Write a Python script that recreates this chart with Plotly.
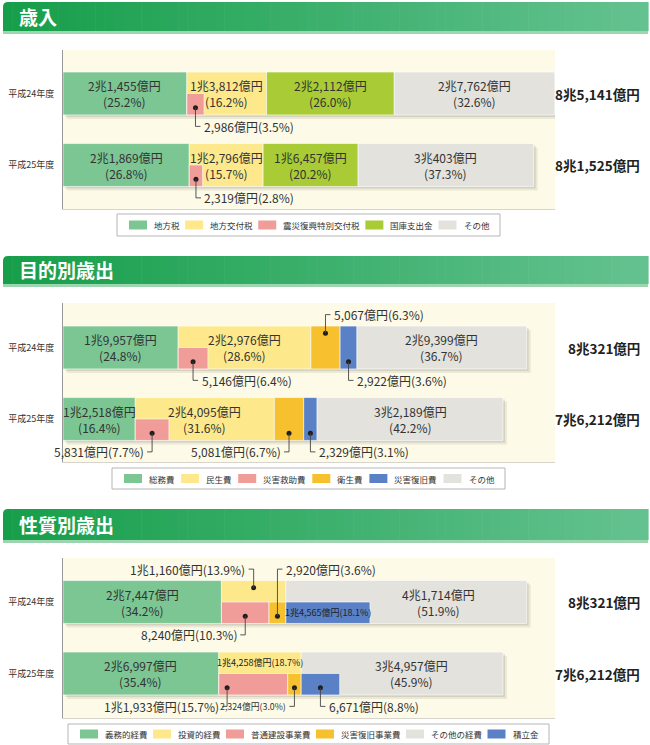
import plotly.graph_objects as go

W, H = 650, 745
FONT = "Noto Sans CJK JP, Noto Sans, sans-serif"

# ---------------- data ----------------
years = ["平成24年度", "平成25年度"]

rev_cats = ["地方税", "地方交付税", "震災復興特別交付税", "国庫支出金", "その他"]
rev_h24 = [21455, 13812, 2986, 22112, 27762]
rev_h25 = [21869, 12796, 2319, 16457, 30403]
rev_pct_h24 = [25.2, 16.2, 3.5, 26.0, 32.6]
rev_pct_h25 = [26.8, 15.7, 2.8, 20.2, 37.3]

pur_cats = ["総務費", "民生費", "災害救助費", "衛生費", "災害復旧費", "その他"]
pur_h24 = [19957, 22976, 5146, 5067, 2922, 29399]
pur_h25 = [12518, 24095, 5831, 5081, 2329, 32189]
pur_pct_h24 = [24.8, 28.6, 6.4, 6.3, 3.6, 36.7]
pur_pct_h25 = [16.4, 31.6, 7.7, 6.7, 3.1, 42.2]

nat_cats = ["義務的経費", "投資的経費", "普通建設事業費", "災害復旧事業費", "その他の経費", "積立金"]
nat_h24 = [27447, 11160, 8240, 2920, 41714, 14565]
nat_h25 = [26997, 14258, 11933, 2324, 34957, 6671]
nat_pct_h24 = [34.2, 13.9, 10.3, 3.6, 51.9, 18.1]
nat_pct_h25 = [35.4, 18.7, 15.7, 3.0, 45.9, 8.8]

# ---------------- styling ----------------
GREEN, YELLOW, PINK = "#7cc693", "#fde98b", "#f09d99"
LIME, GREY, ORANGE, BLUE = "#a9cb35", "#e3e2dd", "#f7c02e", "#5a80c5"
TXT = "#333333"

X0PX, X1PX = 63, 555
XMAX = 85224.0                      # axis range (oku yen)
PX = XMAX / (X1PX - X0PX)           # data units per pixel
UNIT = 71.5                         # pixels per category step


def fmt(v):
    c, o = divmod(int(v), 10000)
    return f"{c}兆{o:,}億円" if c else f"{o:,}億円"


def px_x(p):
    return p / W


def px_y(p):
    return 1 - p / H


sections = [
    dict(title="歳入", cats=rev_cats, vals=[rev_h24, rev_h25], pcts=[rev_pct_h24, rev_pct_h25],
         colors=[GREEN, YELLOW, PINK, LIME, GREY], main=[0, 1, 3, 4], subs=[(2, 1)],
         banner=(2, 31), bg=(50, 209), centers=(93.5, 165), legend=(117, 500, 214, 236),
         inside=[(0, 0), (1, 0), (3, 0), (4, 0), (0, 1), (1, 1), (3, 1), (4, 1)],
         small=[],
         callouts=[(2, 0, "down", "right", 0.5, 12), (2, 1, "down", "right", 0.5, 12)]),
    dict(title="目的別歳出", cats=pur_cats, vals=[pur_h24, pur_h25], pcts=[pur_pct_h24, pur_pct_h25],
         colors=[GREEN, YELLOW, PINK, ORANGE, BLUE, GREY], main=[0, 1, 3, 4, 5], subs=[(2, 1)],
         banner=(256, 284), bg=(303, 462), centers=(347.5, 419), legend=(112, 505, 468, 489),
         inside=[(0, 0), (1, 0), (5, 0), (0, 1), (1, 1), (5, 1)],
         small=[],
         callouts=[(2, 0, "down", "right", 0.5, 12), (3, 0, "up", "right", 0.5, 12),
                   (4, 0, "down", "right", 0.5, 12), (2, 1, "down", "left", 0.5, 12),
                   (3, 1, "down", "left", 0.5, 12), (4, 1, "down", "right", 0.5, 12)]),
    dict(title="性質別歳出", cats=nat_cats, vals=[nat_h24, nat_h25], pcts=[nat_pct_h24, nat_pct_h25],
         colors=[GREEN, YELLOW, PINK, ORANGE, GREY, BLUE], main=[0, 1, 4], subs=[(2, 1), (3, 1), (5, 4)],
         banner=(509, 540), bg=(558, 718), centers=(602, 673.5), legend=(68, 549, 724, 744),
         inside=[(0, 0), (0, 1), (4, 0), (4, 1)],
         small=[(5, 0, "bottom"), (1, 1, "top")],
         callouts=[(1, 0, "up", "left", 0.5, 12), (2, 0, "down", "left", 0.5, 12),
                   (3, 0, "up", "right", 0.5, 12), (2, 1, "down", "left", 0.12, 12),
                   (3, 1, "down", "left", 0.5, 8.8), (5, 1, "down", "right", 0.5, 12)]),
]

fig = go.Figure()
shapes, annotations = [], []
layout_axes = {}


def geometry(sec):
    geo = {}
    for yr in range(2):
        vals = sec["vals"][yr]
        cum = 0
        for i in sec["main"]:
            geo[(i, yr)] = (cum, vals[i], "full")
            cum += vals[i]
        sub_cum = {}
        for i, parent in sec["subs"]:
            pb = geo[(parent, yr)][0]
            off = sub_cum.get(parent, 0)
            geo[(i, yr)] = (pb + off, vals[i], "bottom")
            sub_cum[parent] = off + vals[i]
    return geo


def banner(y0, y1, n=70):
    xa, xb = 3, 648
    c0, c1 = (22, 158, 74), (100, 194, 144)
    for i in range(n):
        a = xa + (xb - xa) * i / n
        b = xa + (xb - xa) * (i + 1) / n + 0.6
        t = i / (n - 1)
        col = "rgb(%d,%d,%d)" % tuple(round(c0[k] + (c1[k] - c0[k]) * t) for k in range(3))
        if i == 0:
            r = 5
            path = (f"M{px_x(a)},{px_y(y1)} L{px_x(a)},{px_y(y0 + r)} "
                    f"Q{px_x(a)},{px_y(y0)} {px_x(a + r)},{px_y(y0)} "
                    f"L{px_x(b)},{px_y(y0)} L{px_x(b)},{px_y(y1)} Z")
            shapes.append(dict(type="path", xref="paper", yref="paper", path=path,
                               fillcolor=col, line=dict(width=0)))
        else:
            shapes.append(dict(type="rect", xref="paper", yref="paper",
                               x0=px_x(a), x1=px_x(b), y0=px_y(y1), y1=px_y(y0),
                               fillcolor=col, line=dict(width=0)))
    shapes.append(dict(type="rect", xref="paper", yref="paper",
                       x0=px_x(xa), x1=px_x(xb), y0=px_y(y1 + 3), y1=px_y(y1),
                       fillcolor="#9dd5b1", line=dict(width=0)))


for n, sec in enumerate(sections, start=1):
    xa = "x" if n == 1 else f"x{n}"
    ya = "y" if n == 1 else f"y{n}"
    top, bot = sec["bg"]
    c24, c25 = sec["centers"]
    yr_range = [1 + (bot - c25) / UNIT, -(c24 - top) / UNIT]
    layout_axes["xaxis" if n == 1 else f"xaxis{n}"] = dict(
        domain=[px_x(X0PX), px_x(X1PX)], range=[0, XMAX], anchor=ya,
        showgrid=False, zeroline=False, showticklabels=False, ticks="",
        showline=True, linecolor="#d6d4cc", linewidth=1, fixedrange=True)
    layout_axes["yaxis" if n == 1 else f"yaxis{n}"] = dict(
        domain=[px_y(bot), px_y(top)], range=yr_range, anchor=xa,
        tickvals=[0, 1], ticktext=years, ticks="", ticklabelstandoff=6,
        tickfont=dict(size=9, color=TXT, family=FONT),
        showgrid=False, zeroline=False, showline=True, linecolor="#9a9a9a",
        linewidth=1, fixedrange=True)

    geo = geometry(sec)
    vals, pcts, cats, cols = sec["vals"], sec["pcts"], sec["cats"], sec["colors"]
    totals = [sum(vals[yr][i] for i in sec["main"]) for yr in range(2)]

    # drop shadows
    for d, a in ((4, 0.07), (2, 0.10)):
        fig.add_trace(go.Bar(orientation="h", y=[0, 1], x=totals, base=[d * PX] * 2,
                             width=0.6, offset=-0.3 + d / UNIT,
                             marker=dict(color=f"rgba(0,0,0,{a})", line=dict(width=0)),
                             xaxis=xa, yaxis=ya, showlegend=False, hoverinfo="skip"))
    # main stacked segments
    for i in sec["main"]:
        fig.add_trace(go.Bar(orientation="h", y=[0, 1], name=cats[i],
                             x=[geo[(i, 0)][1], geo[(i, 1)][1]],
                             base=[geo[(i, 0)][0], geo[(i, 1)][0]],
                             width=0.6, offset=-0.3,
                             marker=dict(color=cols[i], line=dict(color="rgba(255,255,255,0.85)", width=0.7)),
                             xaxis=xa, yaxis=ya, showlegend=False))
    # half-height component segments
    for i, parent in sec["subs"]:
        fig.add_trace(go.Bar(orientation="h", y=[0, 1], name=cats[i],
                             x=[geo[(i, 0)][1], geo[(i, 1)][1]],
                             base=[geo[(i, 0)][0], geo[(i, 1)][0]],
                             width=0.3, offset=0,
                             marker=dict(color=cols[i], line=dict(color="rgba(255,255,255,0.85)", width=0.7)),
                             xaxis=xa, yaxis=ya, showlegend=False))

    # inside two-line labels
    for i, yr in sec["inside"]:
        b, v, _ = geo[(i, yr)]
        xc = b + v / 2
        xs = 0
        if n == 3 and i == 4:
            bb, bv, _ = geo[(5, yr)]
            xc = (bb + bv + b + v) / 2
            xs = -10
        annotations.append(dict(x=xc, y=yr, xref=xa, yref=ya,
                                text=f"{fmt(v)}<br>({pcts[yr][i]:.1f}%)", showarrow=False,
                                xshift=xs, font=dict(size=12, color=TXT, family=FONT)))
    # small single-line labels in half bars
    for i, yr, half in sec["small"]:
        b, v, _ = geo[(i, yr)]
        yy = yr + (0.15 if half == "bottom" else -0.15)
        annotations.append(dict(x=b + v / 2, y=yy, xref=xa, yref=ya,
                                text=f"{fmt(vals[yr][i])}({pcts[yr][i]:.1f}%)", showarrow=False,
                                font=dict(size=9, color="#222", family=FONT)))

    # callouts with leader lines
    dx, dy = [], []
    for i, yr, dirn, side, frac, fs in sec["callouts"]:
        b, v, half = geo[(i, yr)]
        xd = b + v * frac
        if half == "bottom":
            yd = yr + 0.2
        else:
            yd = yr + (-0.2 if dirn == "up" else 0.2)
        ye = yr + (-0.46 if dirn == "up" else 0.46)
        sgn = 1 if side == "right" else -1
        xe = xd + sgn * 5 * PX
        dx.append(xd)
        dy.append(yd)
        shapes.append(dict(type="path", xref=xa, yref=ya,
                           path=f"M{xd},{yd} V{ye} H{xe}",
                           line=dict(color="#444", width=0.9)))
        annotations.append(dict(x=xe + sgn * 1.5 * PX, y=ye, xref=xa, yref=ya,
                                text=f"{fmt(vals[yr][i])}({pcts[yr][i]:.1f}%)",
                                xanchor="left" if side == "right" else "right",
                                showarrow=False, font=dict(size=fs, color=TXT, family=FONT)))
    fig.add_trace(go.Scatter(x=dx, y=dy, mode="markers", xaxis=xa, yaxis=ya,
                             marker=dict(size=5, color="#1e1e1e"), showlegend=False,
                             hoverinfo="skip"))

    # totals on the right
    for yr in range(2):
        annotations.append(dict(x=px_x(642), y=yr, xref="paper", yref=ya, xanchor="right",
                                text=f"<b>{fmt(totals[yr])}</b>", showarrow=False,
                                font=dict(size=13.5, color="#222", family=FONT)))

    # banner + title
    y0, y1 = sec["banner"]
    banner(y0, y1)
    annotations.append(dict(x=px_x(17), y=px_y((y0 + y1) / 2), xref="paper", yref="paper",
                            xanchor="left", yanchor="middle", text=f"<b>{sec['title']}</b>",
                            showarrow=False, font=dict(size=19, color="white", family=FONT)))

    # legend box
    lx0, lx1, ly0, ly1 = sec["legend"]
    shapes.append(dict(type="rect", xref="paper", yref="paper", x0=px_x(lx0), x1=px_x(lx1),
                       y0=px_y(ly1), y1=px_y(ly0), fillcolor="white",
                       line=dict(color="#b5b5b5", width=1)))
    cw, sw, tg, pad = 8.5, 18, 6, 12
    twid = [len(c) * cw for c in cats]
    gap = ((lx1 - lx0) - 2 * pad - len(cats) * (sw + tg) - sum(twid)) / (len(cats) - 1)
    cx = lx0 + pad
    cy = (ly0 + ly1) / 2
    for c, col, tw in zip(cats, cols, twid):
        shapes.append(dict(type="rect", xref="paper", yref="paper", x0=px_x(cx), x1=px_x(cx + sw),
                           y0=px_y(cy + 4.5), y1=px_y(cy - 4.5), fillcolor=col, line=dict(width=0)))
        annotations.append(dict(x=px_x(cx + sw + tg - 1), y=px_y(cy), xref="paper", yref="paper",
                                xanchor="left", yanchor="middle", text=c, showarrow=False,
                                font=dict(size=8.5, color=TXT, family=FONT)))
        cx += sw + tg + tw + gap

fig.update_layout(
    width=W, height=H, margin=dict(l=0, r=0, t=0, b=0),
    paper_bgcolor="white", plot_bgcolor="#fdfbe7",
    barmode="overlay", showlegend=False,
    font=dict(family=FONT, color=TXT),
    shapes=shapes, annotations=annotations, **layout_axes)

fig.write_html("out.html", config={"displayModeBar": False},
               post_script="document.body.style.margin='0';document.body.style.padding='0';"
                           "document.body.style.overflow='hidden';")
